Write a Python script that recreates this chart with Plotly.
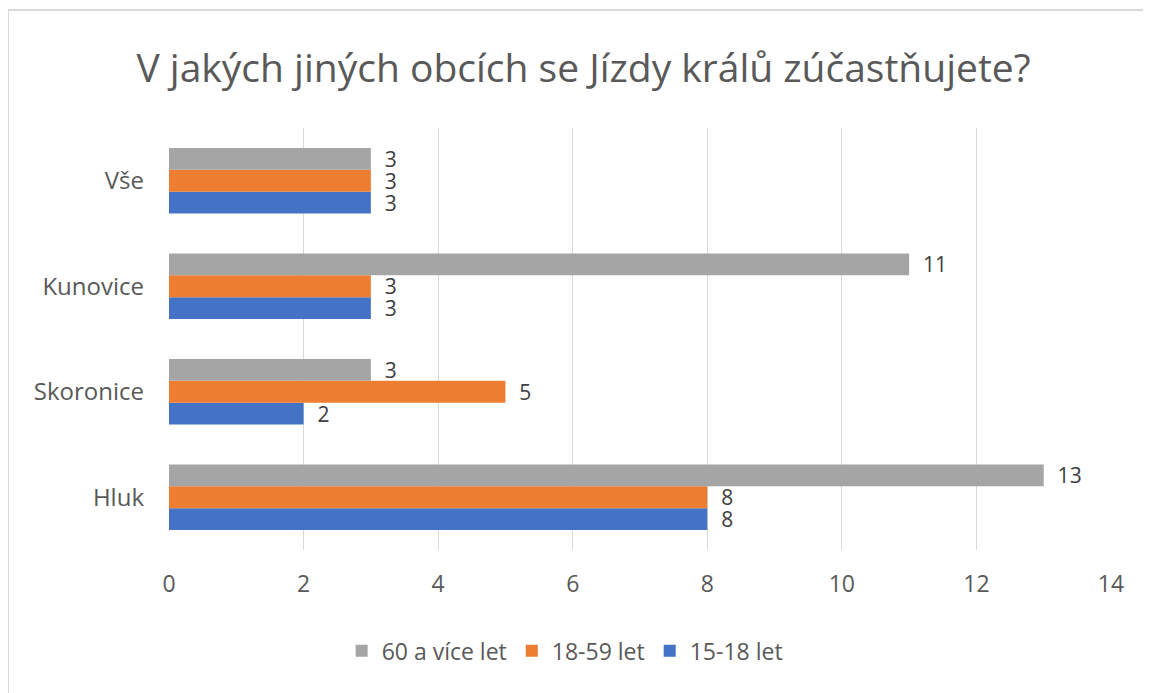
import plotly.graph_objects as go

categories = ["Hluk", "Skoronice", "Kunovice", "Vše"]
s_15_18 = [8, 2, 3, 3]
s_18_59 = [8, 5, 3, 3]
s_60 = [13, 3, 11, 3]
series_names = ["15-18 let", "18-59 let", "60 a více let"]
colors = ["#4472C4", "#ED7D31", "#A5A5A5"]
x_ticks = [0, 2, 4, 6, 8, 10, 12, 14]

FONT = "Open Sans"
fig = go.Figure()
for name, vals, col in zip(series_names, [s_15_18, s_18_59, s_60], colors):
    fig.add_trace(go.Bar(
        y=categories, x=vals, name=name, orientation="h",
        marker=dict(color=col, line=dict(width=0)),
        text=["  " + str(v) for v in vals], textposition="outside",
        constraintext="none",
        textfont=dict(size=21, color="#404040", family=FONT),
        cliponaxis=False,
    ))

fig.update_layout(
    width=1151, height=693,
    paper_bgcolor="white", plot_bgcolor="white",
    margin=dict(l=161, r=48, t=120, b=151),
    barmode="group", bargap=0.38, bargroupgap=0,
    title=dict(text="V jakých jiných obcích se Jízdy králů zúčastňujete?",
               x=0.5, xanchor="center", y=0.913, yanchor="middle",
               font=dict(size=39, color="#595959", family=FONT)),
    xaxis=dict(range=[0, 14], tickvals=x_ticks, showgrid=True, gridcolor="#D9D9D9",
               gridwidth=1, zeroline=False, showline=False, ticks="",
               ticklabelstandoff=18,
               tickfont=dict(size=23, color="#595959", family=FONT)),
    yaxis=dict(showgrid=False, showline=False, ticks="", ticklabelstandoff=24,
               tickfont=dict(size=24, color="#595959", family=FONT)),
    legend=dict(orientation="h", x=0.42, xanchor="center", y=-0.239, yanchor="middle",
                traceorder="reversed", font=dict(size=23, color="#595959", family=FONT),
                itemwidth=30),
    showlegend=True,
)
fig.add_shape(type="line", xref="paper", yref="paper", x0=-0.171, x1=1.1, y0=1.2796, y1=1.2796,
              line=dict(color="#D9D9D9", width=2))
fig.add_shape(type="line", xref="paper", yref="paper", x0=-0.171, x1=-0.171, y0=1.2796, y1=-0.5,
              line=dict(color="#D9D9D9", width=2))
fig.write_html("out.html")
